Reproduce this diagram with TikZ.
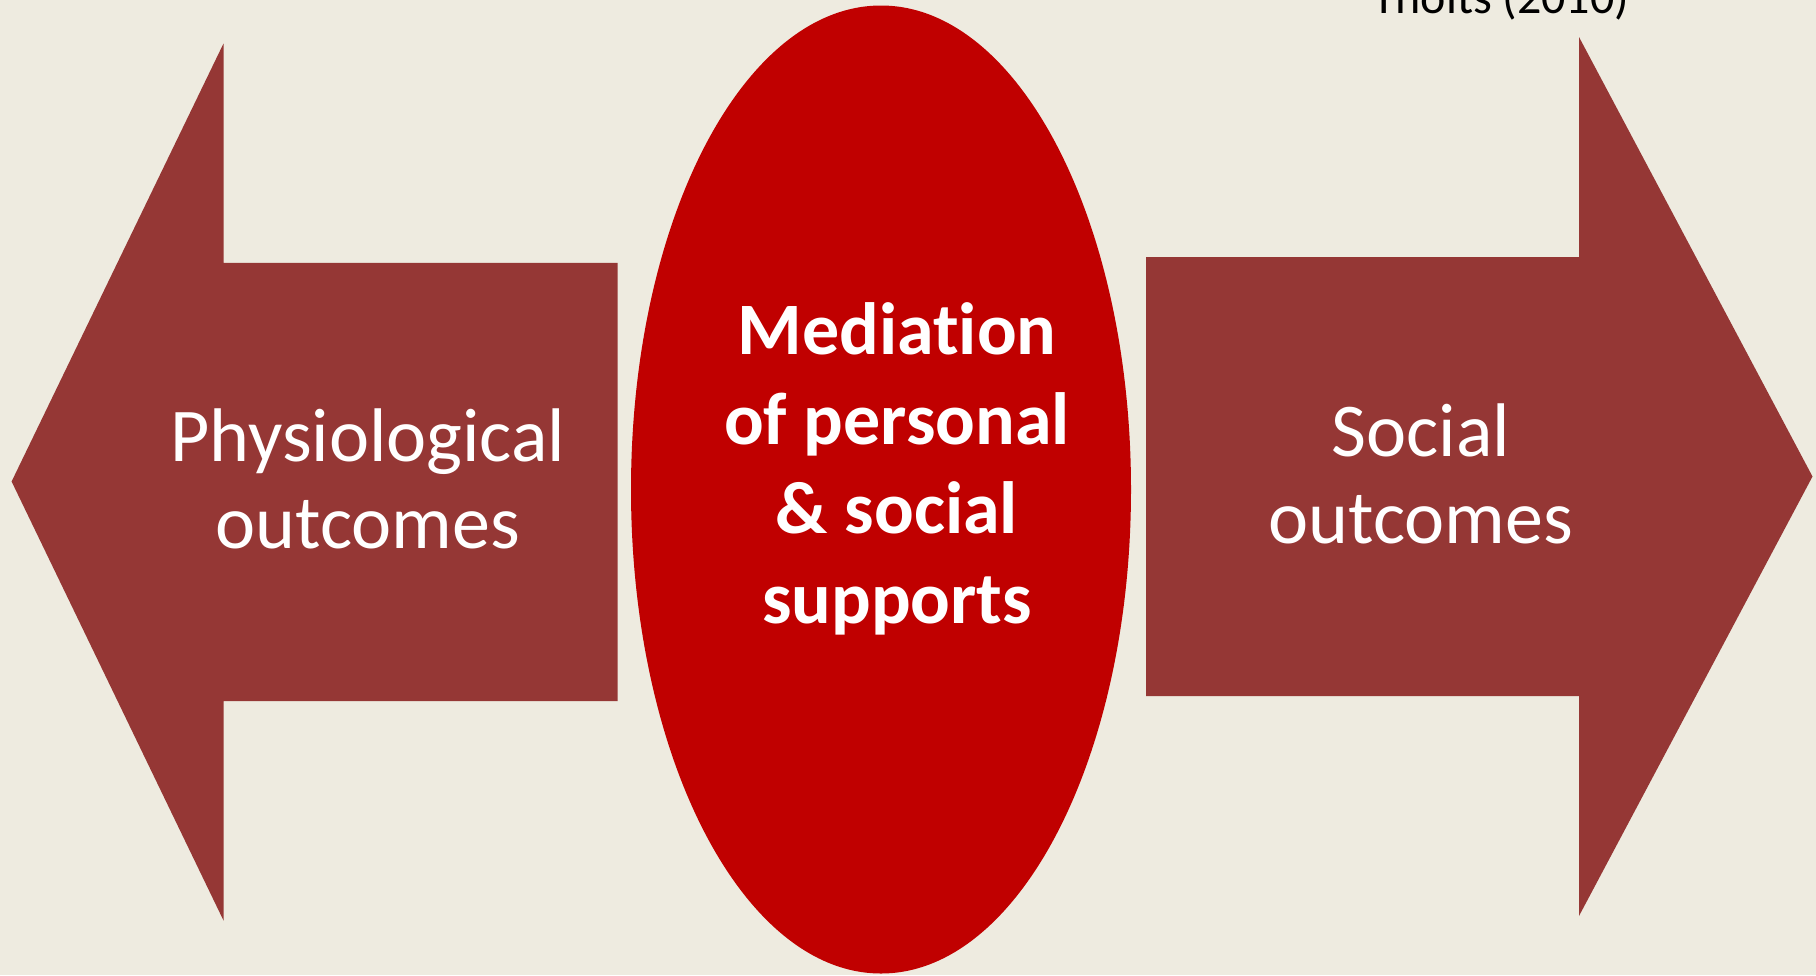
\documentclass[tikz,border=0pt]{standalone}
\usepackage{fontspec}
\setmainfont{Carlito}[Ligatures=NoCommon]
\usetikzlibrary{positioning}
\definecolor{paper}{HTML}{EEEBE0}
\definecolor{brick}{HTML}{953735}
\definecolor{crimson}{HTML}{C00000}
\tikzset{
  arrowshape/.style = {fill=brick, draw=none},
  plain/.style      = {text=white, align=center, inner sep=0pt, font=\fontsize{76}{87}\selectfont},
  heavy/.style      = {text=white, align=center, inner sep=0pt, font=\fontsize{74}{89.5}\selectfont\bfseries},
  cite/.style       = {text=black, inner sep=0pt, font=\fontsize{48}{58}\selectfont},
}
\begin{document}
\begin{tikzpicture}[x=1pt,y=-1pt]
    \fill[paper] (0,0) rectangle (1816,975);
    \useasboundingbox (0,0) rectangle (1816,975);

    % left arrow
    \fill[arrowshape] (11.6,481.5) -- (223.5,43.5) -- (223.5,262.8) -- (617.5,262.8)
      -- (617.5,701) -- (223.5,701) -- (223.5,920.5) -- cycle;
    % right arrow
    \fill[arrowshape] (1812.5,476.5) -- (1579,916) -- (1579,696) -- (1146,696)
      -- (1146,257) -- (1579,257) -- (1579,37) -- cycle;
    % middle
    \fill[crimson] (881,489.5) ellipse [x radius=250, y radius=484];

    \node[plain] (physio) at (368,479) {Physiological\\outcomes};
    \node[plain] (social) at (1421,474) {Social\\outcomes};
    \node[heavy] (mediation) at (897,469) {Mediation\\of personal\\\& social\\supports};
    \node[cite, anchor=base west] (thoits) at (1372,13) {Thoits (2010)};
  \end{tikzpicture}
\end{document}
